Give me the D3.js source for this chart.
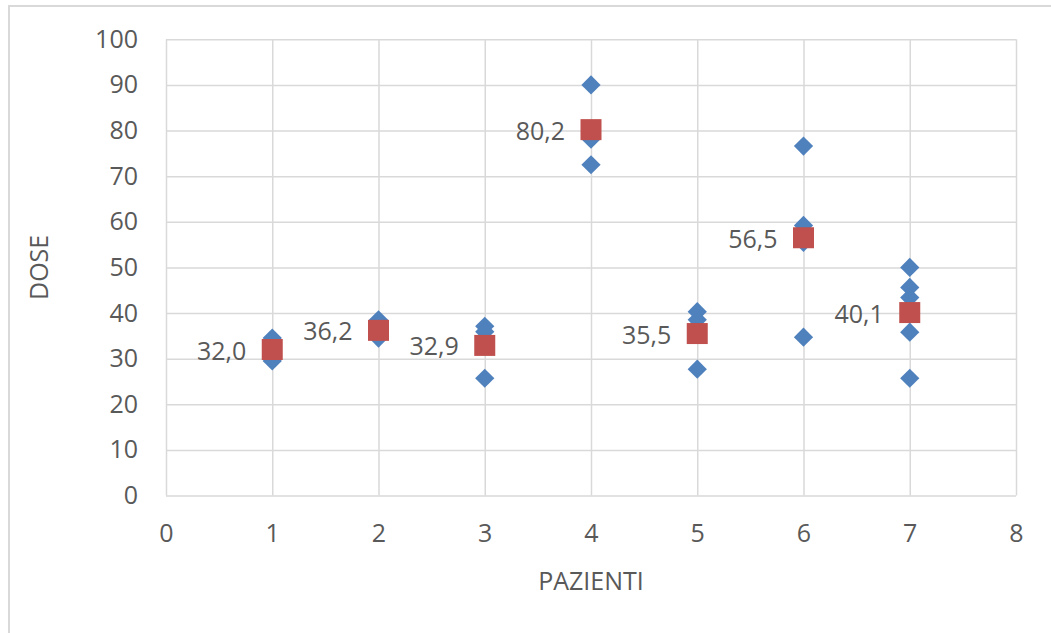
<!DOCTYPE html>
<html>
<head>
<meta charset="utf-8">
<script src="https://cdn.jsdelivr.net/npm/d3@7"></script>
<style>
  html, body { margin: 0; padding: 0; background: #fff; }
  svg text { font-family: "Open Sans", "Liberation Sans", sans-serif; fill: #595959; }
</style>
</head>
<body>
<svg id="chart" width="1051" height="633"></svg>
<script>
// Dosi rilevate per paziente (singole misure)
const misurePaziente = [1, 1, 2, 2, 2, 3, 3, 3, 4, 4, 4, 5, 5, 5, 6, 6, 6, 6, 7, 7, 7, 7, 7];
const misureDose = [34.5, 29.5, 38.5, 35.6, 34.5, 37.1, 35.9, 25.7, 90.0, 78.1, 72.5,
                    40.3, 38.5, 27.7, 76.6, 59.2, 55.5, 34.7, 50.0, 45.6, 43.4, 35.8, 25.7];

// Dose media per paziente
const pazienti = [1, 2, 3, 4, 5, 6, 7];
const doseMedia = [32.0, 36.2, 32.9, 80.2, 35.5, 56.5, 40.1];

// Tick degli assi
const xTicks = [0, 1, 2, 3, 4, 5, 6, 7, 8];
const yTicks = [0, 10, 20, 30, 40, 50, 60, 70, 80, 90, 100];

const svg = d3.select("#chart");
const W = 1051, H = 633;
const plot = { left: 166, right: 1016, top: 39.3, bottom: 495.5 };

const x = d3.scaleLinear().domain([0, 8]).range([plot.left, plot.right]);
const y = d3.scaleLinear().domain([0, 100]).range([plot.bottom, plot.top]);

// Cornice dell'area del grafico
svg.append("line").attr("x1", 8).attr("x2", W).attr("y1", 6).attr("y2", 6)
  .attr("stroke", "#d9d9d9").attr("stroke-width", 2);
svg.append("line").attr("x1", 9).attr("x2", 9).attr("y1", 5).attr("y2", H)
  .attr("stroke", "#d9d9d9").attr("stroke-width", 2);

// Griglia
const grid = svg.append("g");
grid.append("g")
  .attr("transform", `translate(0,${plot.bottom})`)
  .call(d3.axisBottom(x).tickValues(xTicks).tickSize(-(plot.bottom - plot.top)).tickFormat(""))
  .call(g => g.select(".domain").remove())
  .call(g => g.selectAll("line").attr("stroke", "#d9d9d9").attr("stroke-width", 1.5));
grid.append("g")
  .attr("transform", `translate(${plot.left},0)`)
  .call(d3.axisLeft(y).tickValues(yTicks).tickSize(-(plot.right - plot.left)).tickFormat(""))
  .call(g => g.select(".domain").remove())
  .call(g => g.selectAll("line").attr("stroke", "#d9d9d9").attr("stroke-width", 1.5));

// Etichette degli assi
const fontSize = 25;
svg.append("g")
  .attr("transform", `translate(0,${plot.bottom})`)
  .call(d3.axisBottom(x).tickValues(xTicks).tickSize(0).tickPadding(29).tickFormat(d3.format("d")))
  .call(g => g.select(".domain").remove())
  .call(g => g.selectAll("text").attr("font-size", fontSize).attr("fill", "#595959")
    .style("font-family", "'Open Sans', sans-serif"));
svg.append("g")
  .attr("transform", `translate(${plot.left},0)`)
  .call(d3.axisLeft(y).tickValues(yTicks).tickSize(0).tickPadding(28).tickFormat(d3.format("d")))
  .call(g => g.select(".domain").remove())
  .call(g => g.selectAll("text").attr("font-size", fontSize).attr("fill", "#595959")
    .style("font-family", "'Open Sans', sans-serif"));

// Titoli degli assi
svg.append("text")
  .attr("x", (plot.left + plot.right) / 2).attr("y", 580)
  .attr("text-anchor", "middle").attr("dominant-baseline", "central")
  .attr("font-size", fontSize).text("PAZIENTI");
svg.append("text")
  .attr("transform", `translate(38,${(plot.top + plot.bottom) / 2}) rotate(-90)`)
  .attr("text-anchor", "middle").attr("dominant-baseline", "central")
  .attr("font-size", fontSize).text("DOSE");

// Singole misure: rombi blu
const diamond = d3.symbol().type(d3.symbolSquare).size(13.6 * 13.6);
svg.append("g").selectAll("path")
  .data(misureDose.map((d, i) => ({ p: misurePaziente[i], v: d })))
  .join("path")
  .attr("d", diamond)
  .attr("transform", d => `translate(${x(d.p)},${y(d.v)}) rotate(45)`)
  .attr("fill", "#4f81bd");

// Medie: quadrati rossi
svg.append("g").selectAll("rect")
  .data(pazienti.map((p, i) => ({ p, v: doseMedia[i] })))
  .join("rect")
  .attr("x", d => x(d.p) - 10.5).attr("y", d => y(d.v) - 10.5)
  .attr("width", 21).attr("height", 21)
  .attr("fill", "#c0504d");

// Etichette dei valori medi
const fmt = v => v.toFixed(1).replace(".", ",");
svg.append("g").selectAll("text")
  .data(pazienti.map((p, i) => ({ p, v: doseMedia[i] })))
  .join("text")
  .attr("x", d => x(d.p) - 26).attr("y", d => y(d.v))
  .attr("text-anchor", "end").attr("dominant-baseline", "central")
  .attr("font-size", fontSize)
  .text(d => fmt(d.v));
</script>
</body>
</html>
